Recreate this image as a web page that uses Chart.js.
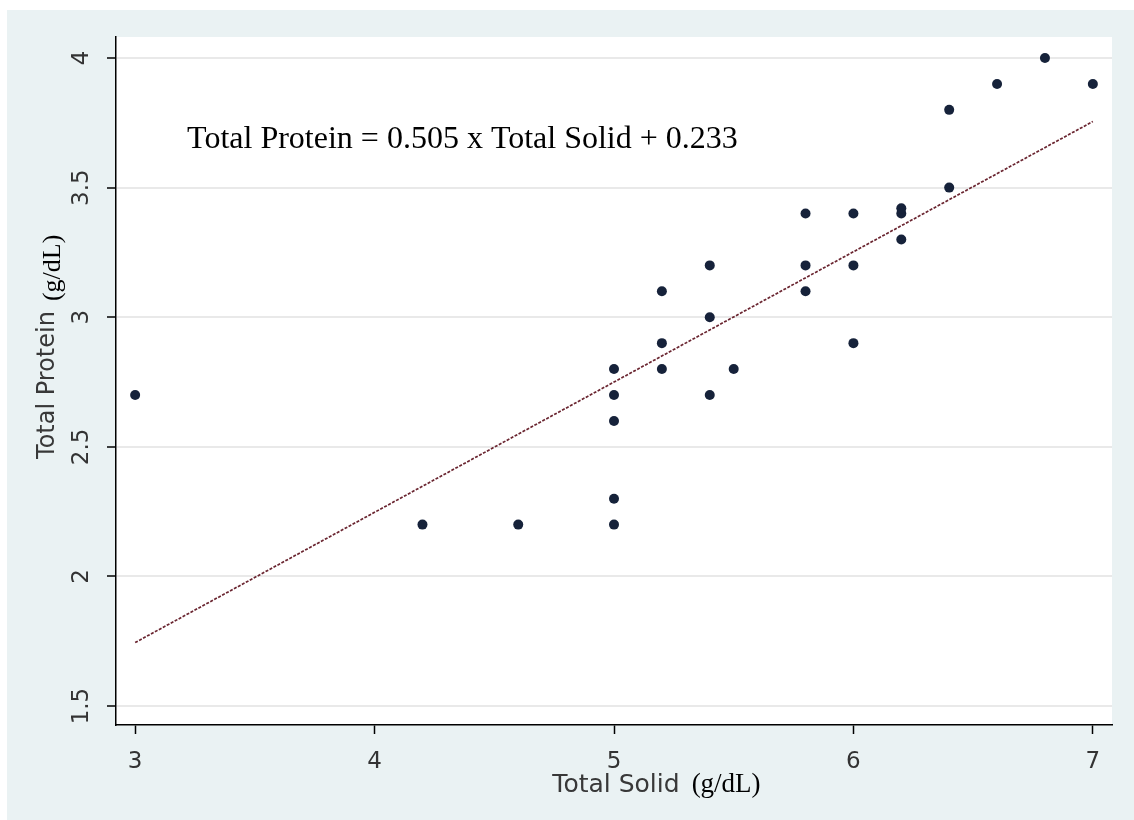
<!DOCTYPE html>
<html>
<head>
<meta charset="utf-8">
<script src="https://cdn.jsdelivr.net/npm/chart.js@4.4.1/dist/chart.umd.min.js"></script>
<style>
  html, body { margin: 0; padding: 0; background: #ffffff; width: 1134px; height: 820px; overflow: hidden; }
  #wrap { position: absolute; left: 7px; top: 10px; width: 1127px; height: 810px; background: #eaf2f3; }
  canvas { display: block; }
</style>
</head>
<body>
<div id="wrap"><canvas id="c" width="1127" height="810"></canvas></div>
<script>
// ---- data ----
const totalSolid   = [3.0, 4.2, 4.6, 5.0, 5.0, 5.0, 5.0, 5.0, 5.2, 5.2, 5.2, 5.4, 5.4, 5.4, 5.5, 5.8, 5.8, 5.8, 6.0, 6.0, 6.0, 6.2, 6.2, 6.2, 6.4, 6.4, 6.6, 6.8, 7.0];
const totalProtein = [2.7, 2.2, 2.2, 2.2, 2.3, 2.6, 2.7, 2.8, 2.8, 2.9, 3.1, 2.7, 3.0, 3.2, 2.8, 3.1, 3.2, 3.4, 2.9, 3.2, 3.4, 3.3, 3.4, 3.42, 3.5, 3.8, 3.9, 4.0, 3.9];
const fitX = [3, 7];
const fitY = [1.745, 3.755];
const xTicks = [3, 4, 5, 6, 7];
const xTickLabels = ['3', '4', '5', '6', '7'];
const yTicks = [1.5, 2, 2.5, 3, 3.5, 4];
const yTickLabels = ['1.5', '2', '2.5', '3', '3.5', '4'];
const xTitle = 'Total Solid';
const yTitle = 'Total Protein';
const unitText = '(g/dL)';
const equationText = 'Total Protein = 0.505 x Total Solid + 0.233';

// annotation anchor (data coordinates)
const eqAnchor = { x: 3.217, y: 3.652 };

const scatterPoints = totalSolid.map((x, i) => ({ x: x, y: totalProtein[i] }));
const fitPoints = fitX.map((x, i) => ({ x: x, y: fitY[i] }));

Chart.defaults.font.family = "'DejaVu Sans', sans-serif";

const plotBg = {
  id: 'plotBg',
  beforeDraw(chart) {
    const { ctx, chartArea: a } = chart;
    ctx.save();
    ctx.fillStyle = '#ffffff';
    ctx.fillRect(a.left, a.top, a.right - a.left, a.bottom - a.top);
    ctx.restore();
  }
};

const texts = {
  id: 'texts',
  afterDraw(chart) {
    const { ctx, chartArea: a, scales } = chart;
    ctx.save();
    // equation annotation
    ctx.font = "32px 'Liberation Serif', 'Times New Roman', serif";
    ctx.fillStyle = '#000000';
    ctx.textAlign = 'left';
    ctx.textBaseline = 'alphabetic';
    ctx.fillText(equationText, scales.x.getPixelForValue(eqAnchor.x), scales.y.getPixelForValue(eqAnchor.y));

    // x title
    const cx = (a.left + a.right) / 2;
    ctx.font = "25px 'DejaVu Sans', sans-serif";
    ctx.fillStyle = '#383838';
    const wX = ctx.measureText(xTitle).width;
    const xBase = a.bottom + 67;
    ctx.fillText(xTitle, cx - wX / 2 + 2, xBase);
    ctx.font = "27px 'Liberation Serif', 'Times New Roman', serif";
    ctx.fillStyle = '#000000';
    ctx.fillText(unitText, cx + wX / 2 + 14, xBase);

    // y title (rotated)
    const cy = (a.top + a.bottom) / 2;
    ctx.font = "24px 'DejaVu Sans', sans-serif";
    const wY = ctx.measureText(yTitle).width;
    ctx.save();
    ctx.translate(47, cy);
    ctx.rotate(-Math.PI / 2);
    ctx.fillStyle = '#383838';
    ctx.fillText(yTitle, -wY / 2 - 4, 0);
    ctx.restore();
    ctx.save();
    ctx.translate(53, cy);
    ctx.rotate(-Math.PI / 2);
    ctx.font = "26px 'Liberation Serif', 'Times New Roman', serif";
    ctx.fillStyle = '#000000';
    ctx.fillText(unitText, wY / 2 + 6, 0);
    ctx.restore();
    ctx.restore();
  }
};

new Chart(document.getElementById('c'), {
  data: {
    datasets: [
      {
        type: 'line',
        data: fitPoints,
        borderColor: '#6a2530',
        borderWidth: 1.7,
        borderDash: [3, 1.5],
        pointRadius: 0,
        fill: false,
        order: 0
      },
      {
        type: 'scatter',
        data: scatterPoints,
        backgroundColor: '#16223a',
        borderColor: '#16223a',
        borderWidth: 0,
        pointRadius: 5,
        pointStyle: 'circle',
        order: 1
      }
    ]
  },
  options: {
    responsive: false,
    animation: false,
    devicePixelRatio: 1,
    layout: { padding: { left: 0, top: 27, right: 22, bottom: 0 } },
    plugins: { legend: { display: false }, tooltip: { enabled: false } },
    scales: {
      x: {
        type: 'linear',
        min: 2.92,
        max: 7.08,
        afterBuildTicks(s) { s.ticks = xTicks.map(v => ({ value: v })); },
        afterFit(s) { s.height = 95; },
        grid: { drawOnChartArea: false, drawTicks: true, tickLength: 9, tickColor: '#000000', tickWidth: 1.5 },
        border: { display: true, color: '#000000', width: 1.5 },
        ticks: {
          font: { size: 23 },
          color: '#333333',
          padding: 14,
          maxRotation: 0,
          autoSkip: false,
          callback(v, i) { return xTickLabels[i]; }
        }
      },
      y: {
        type: 'linear',
        min: 1.427,
        max: 4.081,
        afterBuildTicks(s) { s.ticks = yTicks.map(v => ({ value: v })); },
        afterFit(s) { s.width = 109; },
        grid: { color: '#e9e9e9', lineWidth: 2, drawTicks: true, tickLength: 9, tickColor: '#000000', tickWidth: 1.5 },
        border: { display: true, color: '#000000', width: 1.5 },
        ticks: {
          font: { size: 23 },
          color: '#333333',
          padding: 7,
          minRotation: 90,
          maxRotation: 90,
          crossAlign: 'center',
          autoSkip: false,
          callback(v, i) { return yTickLabels[i]; }
        }
      }
    }
  },
  plugins: [plotBg, texts]
});
</script>
</body>
</html>
